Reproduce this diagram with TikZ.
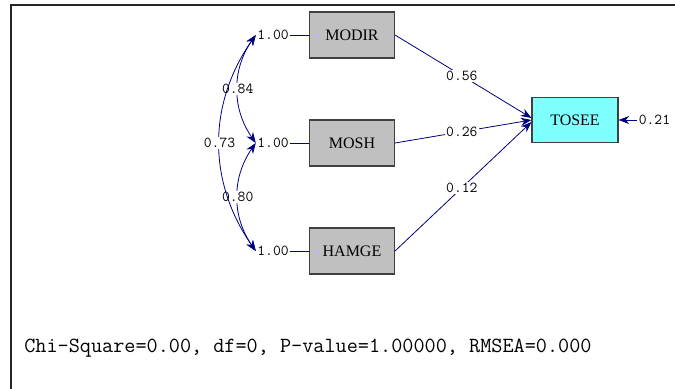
\documentclass[tikz,border=0pt]{standalone}
\usepackage{fontspec}
\setmainfont{Liberation Serif}
\usetikzlibrary{positioning,arrows.meta}
\definecolor{lnavy}{RGB}{0,0,128}
\definecolor{boxgray}{RGB}{192,192,192}
\definecolor{boxcyan}{RGB}{128,255,255}
\tikzstyle{arrow} = [lnavy,line width=0.6pt,->,>={Stealth[length=8pt,width=6pt]}]

\begin{document}
\begin{tikzpicture}[x=0.75pt,y=0.75pt]
	\tikzstyle{var}=[draw=black!75,line width=0.8pt,fill=boxgray,minimum width=63.75pt,minimum height=34.5pt,inner sep=0pt,text=black,font=\fontsize{12}{14}\selectfont]
	\tikzstyle{est}=[font=\ttfamily\fontsize{11.4}{13}\selectfont,inner sep=1pt,text=black]
	\tikzstyle{coef}=[est,fill=white]
	\useasboundingbox (0,0) rectangle (675,389);
	\draw[line width=1.5pt,black!85] (11,0) -- (11,384) -- (675,384);
	\node[var]    (MO) at (352,354) {MODIR};
	\node[var]    (MS) at (352,246) {MOSH};
	\node[var]    (HA) at (352,138) {HAMGE};
	\node[var,fill=boxcyan,minimum width=64.5pt,minimum height=33.75pt] (T) at (575,269) {TOSEE};
	\node[est]    (v1)[left=14pt of MO] {1.00};
	\node[est]    (v2)[left=14pt of MS] {1.00};
	\node[est]    (v3)[left=14pt of HA] {1.00};
	\node[est]    (e)[right=14pt of T]  {0.21};
	\node[font=\ttfamily\fontsize{16.2}{18}\selectfont,inner sep=0pt,anchor=west] (chi) at (24,41) {Chi-Square=0.00, df=0, P-value=1.00000, RMSEA=0.000};
	\draw[lnavy,line width=0.6pt] (v1.east) -- (MO.west);
	\draw[lnavy,line width=0.6pt] (v2.east) -- (MS.west);
	\draw[lnavy,line width=0.6pt] (v3.east) -- (HA.west);
	\path[arrow]
	(MO.east) edge node[coef,pos=0.49]{0.56} ([yshift=1.5pt]T.west)
	(MS.east) edge node[coef,pos=0.49]{0.26} (T.west)
	(HA.east) edge node[coef,pos=0.49]{0.12} ([yshift=-1.5pt]T.west)
	(e.west) edge (T.east);
	\path[arrow,<->]
	(v1.west) edge[bend right=35] node[coef]{0.84} (v2.west)
	(v2.west) edge[bend right=35] node[coef]{0.80} (v3.west)
	(v1.west) edge[bend right=35] node[coef]{0.73} (v3.west);
\end{tikzpicture}
\end{document}
